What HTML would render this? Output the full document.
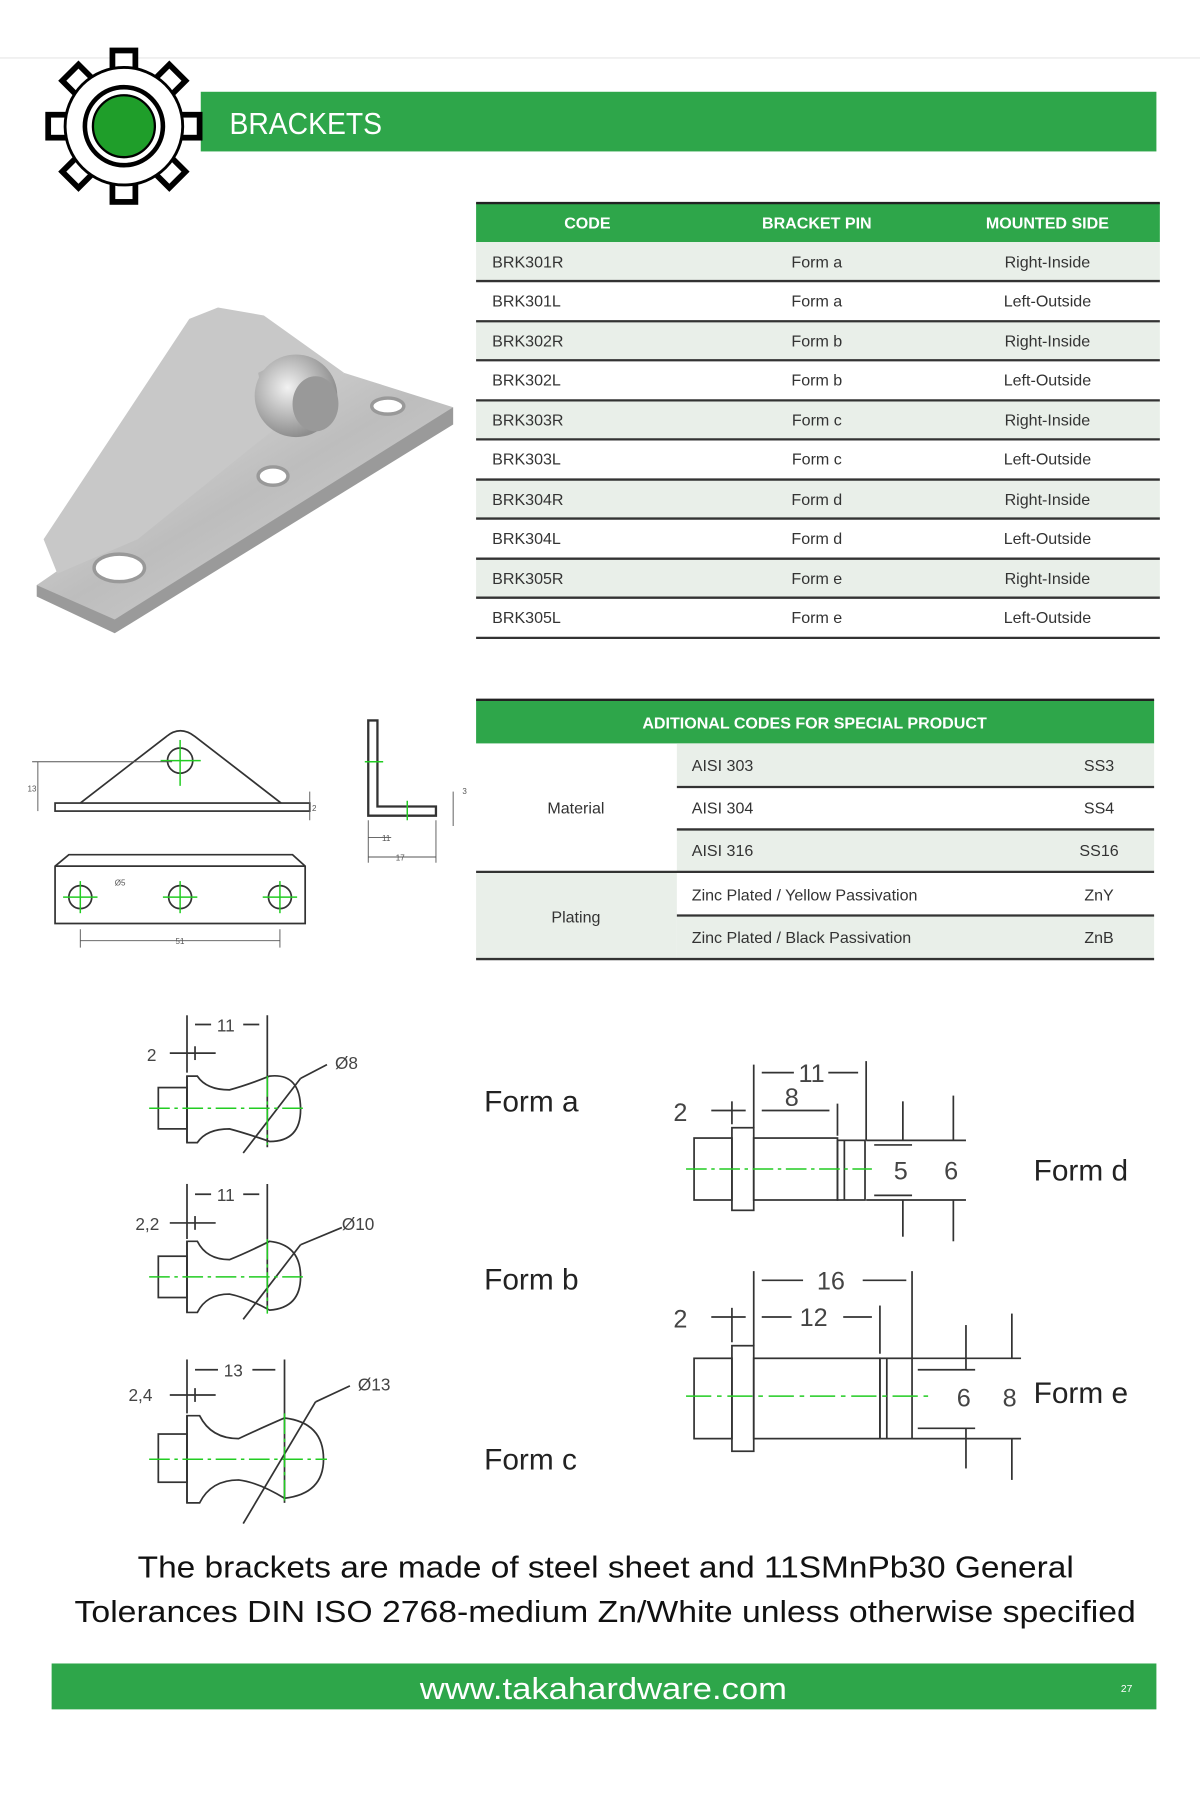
<!DOCTYPE html>
<html><head><meta charset="utf-8"><style>
html,body{margin:0;padding:0;background:#fff;}
svg{display:block;}
text{font-family:"Liberation Sans",sans-serif;}
</style></head><body>
<svg width="1200" height="1800" viewBox="0 0 1046 1569" xmlns="http://www.w3.org/2000/svg">
<rect width="1046" height="1569" fill="#fff"/>
<line x1="0" y1="50.5" x2="1046" y2="50.5" stroke="#eee" stroke-width="1.5"/>
<!-- header -->
<rect x="175" y="80" width="833" height="52" fill="#2ea64a"/>
<text x="200" y="117" font-size="27" fill="#fff" textLength="133" lengthAdjust="spacingAndGlyphs">BRACKETS</text>
<!-- gear -->
<g transform="translate(108,110)">
  <g fill="#fff" stroke="#000" stroke-width="5">
    <g id="t"><rect x="-10" y="-66" width="20" height="22"/></g>
    <use href="#t" transform="rotate(45)"/><use href="#t" transform="rotate(90)"/><use href="#t" transform="rotate(135)"/>
    <use href="#t" transform="rotate(180)"/><use href="#t" transform="rotate(225)"/><use href="#t" transform="rotate(270)"/><use href="#t" transform="rotate(315)"/>
    <circle r="50"/>
  </g>
  <circle r="50" fill="#fff"/>
  <circle r="34" fill="#fff" stroke="#000" stroke-width="4"/>
  <circle r="27" fill="#1f9e2a" stroke="#000" stroke-width="2"/>
</g>
<!-- table 1 -->
<rect x="415" y="177" width="596" height="34" fill="#2ea64a"/>
<line x1="415" y1="177" x2="1011" y2="177" stroke="#222" stroke-width="2"/>
<g font-size="14" fill="#fff" text-anchor="middle" font-weight="bold">
<text x="512" y="199">CODE</text><text x="712" y="199">BRACKET PIN</text><text x="913" y="199">MOUNTED SIDE</text></g>
<g fill="#e9efe9">
<rect x="415" y="211" width="596" height="34"/><rect x="415" y="280" width="596" height="34"/><rect x="415" y="349" width="596" height="34"/><rect x="415" y="418" width="596" height="34"/><rect x="415" y="487" width="596" height="34"/></g>
<g stroke="#333" stroke-width="2">
<line x1="415" x2="1011" y1="245" y2="245"/><line x1="415" x2="1011" y1="280" y2="280"/><line x1="415" x2="1011" y1="314" y2="314"/><line x1="415" x2="1011" y1="349" y2="349"/><line x1="415" x2="1011" y1="383" y2="383"/><line x1="415" x2="1011" y1="418" y2="418"/><line x1="415" x2="1011" y1="452" y2="452"/><line x1="415" x2="1011" y1="487" y2="487"/><line x1="415" x2="1011" y1="521" y2="521"/><line x1="415" x2="1011" y1="556" y2="556"/></g>
<g font-size="14" fill="#333">
<text x="429" y="233">BRK301R</text><text x="429" y="267">BRK301L</text><text x="429" y="302">BRK302R</text><text x="429" y="336">BRK302L</text><text x="429" y="371">BRK303R</text><text x="429" y="405">BRK303L</text><text x="429" y="440">BRK304R</text><text x="429" y="474">BRK304L</text><text x="429" y="509">BRK305R</text><text x="429" y="543">BRK305L</text>
<g text-anchor="middle">
<text x="712" y="233">Form a</text><text x="712" y="267">Form a</text><text x="712" y="302">Form b</text><text x="712" y="336">Form b</text><text x="712" y="371">Form c</text><text x="712" y="405">Form c</text><text x="712" y="440">Form d</text><text x="712" y="474">Form d</text><text x="712" y="509">Form e</text><text x="712" y="543">Form e</text>
<text x="913" y="233">Right-Inside</text><text x="913" y="267">Left-Outside</text><text x="913" y="302">Right-Inside</text><text x="913" y="336">Left-Outside</text><text x="913" y="371">Right-Inside</text><text x="913" y="405">Left-Outside</text><text x="913" y="440">Right-Inside</text><text x="913" y="474">Left-Outside</text><text x="913" y="509">Right-Inside</text><text x="913" y="543">Left-Outside</text></g></g>
<!-- bracket 3D -->
<defs><linearGradient id="g1" x1="0" y1="0" x2="1" y2="1"><stop offset="0" stop-color="#e6e6e6"/><stop offset="0.5" stop-color="#bdbdbd"/><stop offset="1" stop-color="#d8d8d8"/></linearGradient>
<radialGradient id="g2" cx="0.4" cy="0.4" r="0.6"><stop offset="0" stop-color="#f2f2f2"/><stop offset="1" stop-color="#8e8e8e"/></radialGradient></defs>
<polygon points="32,510 395,355 395,370 100,552 32,520" fill="#9a9a9a"/>
<polygon points="32,510 300,325 395,355 100,540" fill="url(#g1)"/>
<polygon points="38,470 165,278 190,268 230,275 300,325 120,470 50,500" fill="#c8c8c8"/>
<ellipse cx="104" cy="495" rx="22" ry="12" fill="#fff" stroke="#999" stroke-width="3"/>
<ellipse cx="238" cy="415" rx="13" ry="8" fill="#fff" stroke="#999" stroke-width="3"/>
<ellipse cx="338" cy="354" rx="14" ry="7" fill="#fff" stroke="#999" stroke-width="3"/>
<path d="M225,325 L245,315 L250,345 L230,350Z" fill="#b5b5b5"/>
<circle cx="258" cy="345" r="36" fill="url(#g2)"/>
<ellipse cx="275" cy="352" rx="20" ry="24" fill="#999"/>
<!-- small drawings -->
<g fill="none" stroke="#333" stroke-width="1.5">
<rect x="48" y="700" width="222" height="7"/>
<path d="M70,700 L145,642 Q157,632 170,642 L245,700"/>
<circle cx="157" cy="663" r="11"/>
<path d="M48,755 L60,745 L255,745 L266,755 L266,805 L48,805 Z"/>
<line x1="48" y1="755" x2="266" y2="755"/>
<circle cx="70" cy="782" r="10"/><circle cx="157" cy="782" r="10"/><circle cx="244" cy="782" r="10"/>
<path d="M321,628 L329,628 L329,703 L380,703 L380,711 L321,711 Z" stroke-width="2"/>
</g>
<g stroke="#2c2" stroke-width="1.3">
<line x1="140" y1="663" x2="175" y2="663"/><line x1="157" y1="645" x2="157" y2="685"/>
<line x1="55" y1="782" x2="85" y2="782"/><line x1="70" y1="768" x2="70" y2="796"/>
<line x1="142" y1="782" x2="172" y2="782"/><line x1="157" y1="768" x2="157" y2="796"/>
<line x1="229" y1="782" x2="259" y2="782"/><line x1="244" y1="768" x2="244" y2="796"/>
<line x1="318" y1="664" x2="334" y2="664"/><line x1="355" y1="698" x2="355" y2="715"/>
</g>
<g stroke="#555" stroke-width="0.8" fill="none">
<line x1="28" y1="664" x2="150" y2="664"/><line x1="33" y1="664" x2="33" y2="707"/>
<line x1="70" y1="810" x2="70" y2="826"/><line x1="244" y1="810" x2="244" y2="826"/><line x1="70" y1="820" x2="244" y2="820"/>
<line x1="321" y1="730" x2="341" y2="730"/><line x1="321" y1="747" x2="380" y2="747"/><line x1="321" y1="715" x2="321" y2="752"/><line x1="380" y1="715" x2="380" y2="752"/>
<line x1="395" y1="690" x2="395" y2="720"/><line x1="270" y1="690" x2="270" y2="715"/>
</g>
<g font-size="7" fill="#555"><text x="24" y="690">13</text><text x="100" y="772">Ø5</text><text x="153" y="823">51</text><text x="333" y="733">11</text><text x="345" y="750">17</text><text x="403" y="692">3</text><text x="272" y="707">2</text></g>
<!-- table 2 -->
<rect x="415" y="610" width="591" height="38" fill="#2ea64a"/>
<line x1="415" y1="610" x2="1006" y2="610" stroke="#222" stroke-width="2"/>
<text x="710" y="635" font-size="14" fill="#fff" text-anchor="middle" font-weight="bold">ADITIONAL CODES FOR SPECIAL PRODUCT</text>
<rect x="590" y="648" width="416" height="37" fill="#e9efe9"/>
<rect x="590" y="723" width="416" height="37" fill="#e9efe9"/>
<rect x="415" y="760" width="175" height="76" fill="#e9efe9"/>
<rect x="590" y="798" width="416" height="38" fill="#e9efe9"/>
<g stroke="#333" stroke-width="2">
<line x1="590" x2="1006" y1="686" y2="686"/><line x1="590" x2="1006" y1="723" y2="723"/><line x1="415" x2="1006" y1="760" y2="760"/><line x1="590" x2="1006" y1="798" y2="798"/><line x1="415" x2="1006" y1="836" y2="836"/></g>
<g font-size="14" fill="#333">
<text x="502" y="709" text-anchor="middle">Material</text><text x="502" y="804" text-anchor="middle">Plating</text>
<text x="603" y="672">AISI 303</text><text x="603" y="709">AISI 304</text><text x="603" y="746">AISI 316</text><text x="603" y="785">Zinc Plated / Yellow Passivation</text><text x="603" y="822">Zinc Plated / Black Passivation</text>
<g text-anchor="middle"><text x="958" y="672">SS3</text><text x="958" y="709">SS4</text><text x="958" y="746">SS16</text><text x="958" y="785">ZnY</text><text x="958" y="822">ZnB</text></g></g>
<!-- ball pins -->
<g fill="none" stroke="#333" stroke-width="1.5">
<rect x="138" y="948" width="25" height="36"/>
<path d="M163,938 L172,938 Q180,950 200,950 Q215,946 235,938 Q262,935 262,967 Q262,995 235,995 Q215,988 200,984 Q180,984 172,996 L163,996 Z"/>
<line x1="163" y1="938" x2="163" y2="996"/>
<rect x="138" y="1095" width="25" height="36"/>
<path d="M163,1082 L172,1082 Q180,1098 200,1098 Q215,1092 235,1082 Q262,1085 262,1113 Q262,1140 235,1142 Q215,1131 200,1128 Q180,1128 172,1144 L163,1144 Z"/>
<line x1="163" y1="1082" x2="163" y2="1144"/>
<rect x="138" y="1250" width="25" height="42"/>
<path d="M163,1234 L174,1234 Q184,1254 208,1254 Q225,1246 248,1236 Q282,1240 282,1272 Q282,1302 248,1306 Q225,1292 208,1290 Q184,1290 174,1310 L163,1310 Z"/>
<line x1="163" y1="1234" x2="163" y2="1310"/>
<line x1="163" y1="885" x2="163" y2="935"/><line x1="233" y1="885" x2="233" y2="1000"/><line x1="170" y1="893" x2="184" y2="893"/><line x1="212" y1="893" x2="226" y2="893"/>
<line x1="148" y1="918" x2="188" y2="918"/><line x1="170" y1="912" x2="170" y2="924"/>
<line x1="163" y1="1032" x2="163" y2="1080"/><line x1="233" y1="1032" x2="233" y2="1140"/><line x1="170" y1="1041" x2="184" y2="1041"/><line x1="212" y1="1041" x2="226" y2="1041"/>
<line x1="148" y1="1066" x2="188" y2="1066"/><line x1="170" y1="1060" x2="170" y2="1072"/>
<line x1="163" y1="1185" x2="163" y2="1232"/><line x1="248" y1="1185" x2="248" y2="1310"/><line x1="170" y1="1194" x2="190" y2="1194"/><line x1="220" y1="1194" x2="240" y2="1194"/>
<line x1="148" y1="1216" x2="188" y2="1216"/><line x1="170" y1="1210" x2="170" y2="1222"/>
<line x1="212" y1="1005" x2="262" y2="940"/><line x1="262" y1="940" x2="285" y2="928"/>
<line x1="212" y1="1150" x2="262" y2="1085"/><line x1="262" y1="1085" x2="298" y2="1070"/>
<line x1="212" y1="1328" x2="275" y2="1222"/><line x1="275" y1="1222" x2="305" y2="1208"/>
</g>
<g stroke="#2c2" stroke-width="1.3" stroke-dasharray="18,4,3,4">
<line x1="130" y1="966" x2="265" y2="966"/><line x1="233" y1="938" x2="233" y2="998"/>
<line x1="130" y1="1113" x2="268" y2="1113"/><line x1="233" y1="1080" x2="233" y2="1145"/>
<line x1="130" y1="1272" x2="285" y2="1272"/><line x1="248" y1="1232" x2="248" y2="1312"/>
</g>
<g font-size="15" fill="#444">
<text x="189" y="899">11</text><text x="128" y="925">2</text><text x="292" y="932">Ø8</text>
<text x="189" y="1047">11</text><text x="118" y="1072">2,2</text><text x="298" y="1072">Ø10</text>
<text x="195" y="1200">13</text><text x="112" y="1221">2,4</text><text x="312" y="1212">Ø13</text>
</g>
<!-- form d -->
<g fill="none" stroke="#333" stroke-width="1.5">
<rect x="605" y="992" width="33" height="54"/><rect x="638" y="983" width="19" height="72"/><rect x="657" y="992" width="73" height="54"/><rect x="730" y="994" width="24" height="52"/><line x1="736" y1="994" x2="736" y2="1046"/>
<line x1="657" y1="928" x2="657" y2="983"/><line x1="755" y1="925" x2="755" y2="994"/><line x1="730" y1="962" x2="730" y2="990"/>
<line x1="664" y1="935" x2="692" y2="935"/><line x1="722" y1="935" x2="748" y2="935"/><line x1="620" y1="968" x2="650" y2="968"/><line x1="664" y1="968" x2="723" y2="968"/><line x1="638" y1="960" x2="638" y2="980"/>
<line x1="755" y1="994" x2="842" y2="994"/><line x1="755" y1="1046" x2="842" y2="1046"/><line x1="762" y1="998" x2="795" y2="998"/><line x1="762" y1="1042" x2="795" y2="1042"/>
<line x1="787" y1="960" x2="787" y2="994"/><line x1="787" y1="1046" x2="787" y2="1078"/><line x1="831" y1="955" x2="831" y2="994"/><line x1="831" y1="1046" x2="831" y2="1082"/>
</g>
<line x1="598" y1="1019" x2="760" y2="1019" stroke="#2c2" stroke-width="1.3" stroke-dasharray="18,4,3,4"/>
<g font-size="22" fill="#444"><text x="587" y="977">2</text><text x="696" y="943">11</text><text x="684" y="964">8</text><text x="779" y="1028">5</text><text x="823" y="1028">6</text></g>
<!-- form e -->
<g fill="none" stroke="#333" stroke-width="1.5">
<rect x="605" y="1184" width="33" height="70"/><rect x="638" y="1173" width="19" height="92"/><rect x="657" y="1184" width="110" height="70"/><rect x="767" y="1184" width="28" height="70"/><line x1="773" y1="1184" x2="773" y2="1254"/>
<line x1="657" y1="1108" x2="657" y2="1173"/><line x1="795" y1="1108" x2="795" y2="1184"/><line x1="767" y1="1138" x2="767" y2="1180"/>
<line x1="664" y1="1116" x2="700" y2="1116"/><line x1="752" y1="1116" x2="790" y2="1116"/>
<line x1="620" y1="1148" x2="650" y2="1148"/><line x1="664" y1="1148" x2="690" y2="1148"/><line x1="735" y1="1148" x2="760" y2="1148"/><line x1="638" y1="1140" x2="638" y2="1170"/>
<line x1="795" y1="1184" x2="890" y2="1184"/><line x1="795" y1="1254" x2="890" y2="1254"/><line x1="800" y1="1194" x2="850" y2="1194"/><line x1="800" y1="1245" x2="850" y2="1245"/>
<line x1="842" y1="1155" x2="842" y2="1194"/><line x1="842" y1="1245" x2="842" y2="1280"/><line x1="882" y1="1145" x2="882" y2="1184"/><line x1="882" y1="1254" x2="882" y2="1290"/>
</g>
<line x1="598" y1="1217" x2="812" y2="1217" stroke="#2c2" stroke-width="1.3" stroke-dasharray="22,5,4,5"/>
<g font-size="22" fill="#444"><text x="587" y="1157">2</text><text x="712" y="1124">16</text><text x="697" y="1156">12</text><text x="834" y="1226">6</text><text x="874" y="1226">8</text></g>
<g font-size="26" fill="#222"><text x="422" y="969">Form a</text><text x="422" y="1124">Form b</text><text x="422" y="1281">Form c</text><text x="901" y="1029">Form d</text><text x="901" y="1223">Form e</text></g>
<!-- bottom text -->
<g font-size="27" fill="#111"><text x="120" y="1375" textLength="816" lengthAdjust="spacingAndGlyphs">The brackets are made of steel sheet and 11SMnPb30 General</text><text x="65" y="1414" textLength="925" lengthAdjust="spacingAndGlyphs">Tolerances DIN ISO 2768-medium Zn/White unless otherwise specified</text></g>
<rect x="45" y="1450" width="963" height="40" fill="#2ea64a"/>
<text x="366" y="1481" font-size="27" fill="#fff" textLength="320" lengthAdjust="spacingAndGlyphs">www.takahardware.com</text>
<text x="982" y="1475" font-size="9" fill="#fff" text-anchor="middle">27</text>
</svg>
</body></html>
